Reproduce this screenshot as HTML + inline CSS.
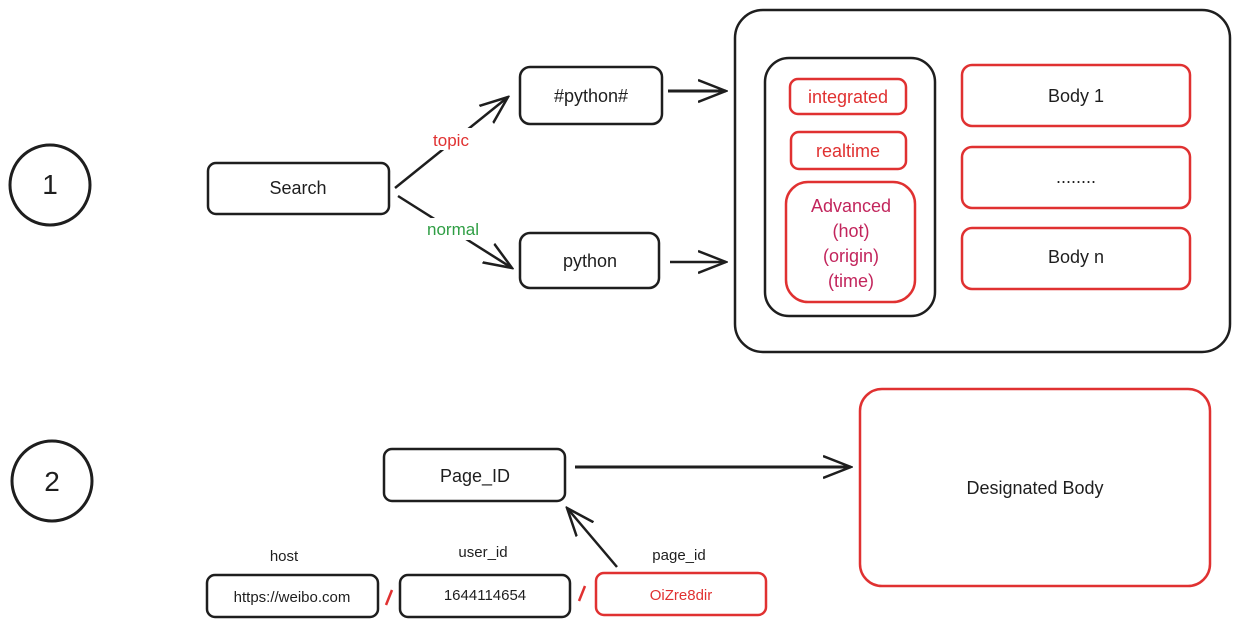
<!DOCTYPE html>
<html><head><style>html,body{margin:0;padding:0;background:#fff;}svg{display:block}text{font-family:"Liberation Sans",sans-serif;}</style></head>
<body>
<svg width="1239" height="627" viewBox="0 0 1239 627" xmlns="http://www.w3.org/2000/svg">
<defs>
<marker id="ahb" viewBox="0 0 30 30" refX="28" refY="15" markerWidth="30" markerHeight="30" markerUnits="userSpaceOnUse" orient="auto">
<path d="M0,4 L28,15 L0,26" fill="none" stroke="#1e1e1e" stroke-width="2.5"/>
</marker>
</defs>
<g fill="none" stroke="#1e1e1e" stroke-width="2.5">
<circle cx="50" cy="185" r="40" stroke-width="3"/>
<circle cx="52" cy="481" r="40" stroke-width="3"/>
<rect x="208" y="163" width="181" height="51" rx="8"/>
<rect x="520" y="67" width="142" height="57" rx="10"/>
<rect x="520" y="233" width="139" height="55" rx="10"/>
<rect x="735" y="10" width="495" height="342" rx="28"/>
<rect x="765" y="58" width="170" height="258" rx="24"/>
<rect x="384" y="449" width="181" height="52" rx="8"/>
<rect x="207" y="575" width="171" height="42" rx="8"/>
<rect x="400" y="575" width="170" height="42" rx="8"/>
<line x1="395" y1="188" x2="508" y2="97" marker-end="url(#ahb)"/>
<line x1="398" y1="196" x2="512" y2="268" marker-end="url(#ahb)"/>
<line x1="668" y1="91" x2="726" y2="91" stroke-width="3" marker-end="url(#ahb)"/>
<line x1="670" y1="262" x2="726" y2="262" marker-end="url(#ahb)"/>
<line x1="575" y1="467" x2="851" y2="467" stroke-width="3" marker-end="url(#ahb)"/>
<line x1="617" y1="567" x2="567" y2="508" marker-end="url(#ahb)"/>
</g>
<rect x="426" y="128" width="50" height="22" fill="#fff"/>
<rect x="422" y="218" width="62" height="22" fill="#fff"/>
<g fill="none" stroke="#e03131" stroke-width="2.5">
<rect x="790" y="79" width="116" height="35" rx="8"/>
<rect x="791" y="132" width="115" height="37" rx="8"/>
<rect x="786" y="182" width="129" height="120" rx="22"/>
<rect x="962" y="65" width="228" height="61" rx="10"/>
<rect x="962" y="147" width="228" height="61" rx="10"/>
<rect x="962" y="228" width="228" height="61" rx="10"/>
<rect x="860" y="389" width="350" height="197" rx="22"/>
<rect x="596" y="573" width="170" height="42" rx="8"/>
<line x1="386" y1="605" x2="392" y2="590"/>
<line x1="579" y1="601" x2="585" y2="586"/>
</g>
<g font-size="18" fill="#1e1e1e" text-anchor="middle">
<text x="50" y="194" font-size="28">1</text>
<text x="52" y="491" font-size="28">2</text>
<text x="298" y="194">Search</text>
<text x="591" y="102">#python#</text>
<text x="590" y="267">python</text>
<text x="1076" y="102">Body 1</text>
<text x="1076" y="183">........</text>
<text x="1076" y="263">Body n</text>
<text x="475" y="482">Page_ID</text>
<text x="1035" y="494">Designated Body</text>
<text x="292" y="602" font-size="15">https://weibo.com</text>
<text x="485" y="600" font-size="15">1644114654</text>
<text x="284" y="561" font-size="15">host</text>
<text x="483" y="557" font-size="15">user_id</text>
<text x="679" y="560" font-size="15">page_id</text>
<text x="681" y="600" font-size="15" fill="#e03131">OiZre8dir</text>
<text x="451" y="146" font-size="17" fill="#e03131">topic</text>
<text x="453" y="235" font-size="17" fill="#2f9e44">normal</text>
<text x="848" y="103" fill="#e03131">integrated</text>
<text x="848" y="157" fill="#e03131">realtime</text>
<g fill="#c2255c">
<text x="851" y="212">Advanced</text>
<text x="851" y="237">(hot)</text>
<text x="851" y="262">(origin)</text>
<text x="851" y="287">(time)</text>
</g>
</g>
</svg>
</body></html>
